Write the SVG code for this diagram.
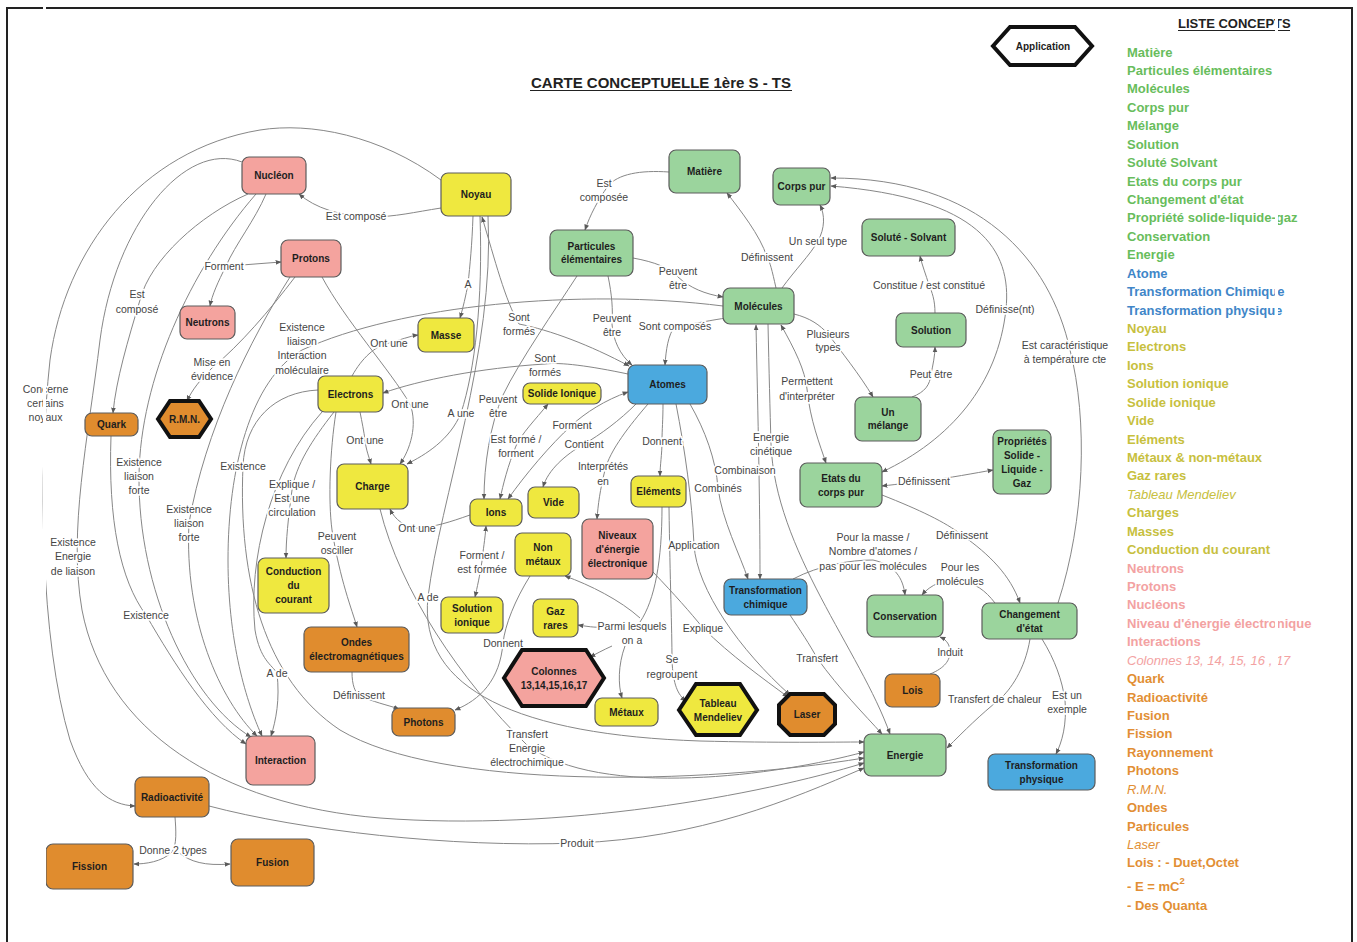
<svg xmlns="http://www.w3.org/2000/svg" width="1357" height="942" viewBox="0 0 1357 942">
<defs>
<style>
.nt{font-family:"Liberation Sans",Arial,sans-serif;font-size:10px;font-weight:bold;fill:#1e1e1e;text-anchor:middle}
.bx{stroke:#5c5c5c;stroke-width:1.2}
.hx{stroke:#111;stroke-width:4;stroke-linejoin:miter}
.pk{fill:#f4a39e}.ye{fill:#efe83f}.gr{fill:#9bd49d}.bl{fill:#4ba9de}.or{fill:#e08c2e}.wh{fill:#fff}
#connectors path{fill:none;stroke:#878787;stroke-width:1}
#connectors path.e{marker-end:url(#ah)}
#connectors path.b{marker-start:url(#ah);marker-end:url(#ah)}
.lb{font-family:"Liberation Sans",Arial,sans-serif;font-size:10.5px;fill:#454545;text-anchor:middle;paint-order:stroke;stroke:#fff;stroke-width:3.5px;stroke-linejoin:round}
.lb.st{text-anchor:start}
.li{font-family:"Liberation Sans",Arial,sans-serif;font-size:13px;font-weight:bold}
.cg{fill:#68bd5c}.cb{fill:#3f86c8}.co{fill:#c7c03e}.cp{fill:#f3a2a2}.cr{fill:#e28f35}
.it{font-style:italic;font-weight:normal}
.hd{font-family:"Liberation Sans",Arial,sans-serif;font-weight:bold;fill:#222}
</style>
<marker id="ah" viewBox="0 0 10 10" refX="9" refY="5" markerWidth="6" markerHeight="6" markerUnits="userSpaceOnUse" orient="auto-start-reverse"><path d="M0,1L10,5L0,9z" fill="#5a5a5a"/></marker>
</defs>
<rect x="0" y="0" width="1357" height="942" fill="#fff"/>
<path d="M7,942 L7,8 L1352,8 L1352,942" fill="none" stroke="#222" stroke-width="2"/>

<g id="title">
<text class="hd" x="661" y="88" font-size="15" text-anchor="middle">CARTE CONCEPTUELLE 1ère S - TS</text>
<line x1="530" y1="90.5" x2="792" y2="90.5" stroke="#222" stroke-width="1.2"/>
</g>

<g id="connectors">
<path class="e" d="M441,208 C415,212 395,217 370,217 C340,216 315,208 299,194"/>
<path class="e" d="M669,172 C640,170 618,174 608,186 C598,200 590,215 585,230"/>
<path class="e" d="M266,194 C255,220 235,245 226,266 C218,282 212,295 210,306"/>
<path class="e" d="M242,265 L281,262"/>
<path class="e" d="M248,194 C200,215 150,260 140,300 C128,340 116,380 113,413"/>
<path class="e" d="M473,216 C472,245 470,265 468,284 C466,295 463,308 460,318"/>
<path class="b" d="M629,366 C590,345 550,330 519,324 C505,300 495,260 482,217"/>
<path class="e" d="M608,276 C612,295 613,310 612,324 C613,340 620,355 632,365"/>
<path class="e" d="M633,258 C655,262 670,268 678,277 C690,288 705,294 723,297"/>
<path class="e" d="M726,318 C700,322 690,325 675,326 C668,335 666,350 665,365"/>
<path class="e" d="M776,288 C772,270 770,262 767,257 C760,235 740,210 727,193"/>
<path class="e" d="M782,288 C795,270 810,255 818,241 C825,228 825,215 820,205"/>
<path class="e" d="M935,313 C935,300 932,292 929,285 C926,275 922,265 920,256"/>
<path class="b" d="M882,472 C950,440 998,385 1006,309 C1012,250 980,198 831,186"/>
<path class="e" d="M1058,603 C1085,520 1088,420 1070,350 C1050,260 980,178 831,178"/>
<path class="e" d="M794,314 C810,318 820,325 828,334 C840,350 860,375 873,397"/>
<path class="e" d="M912,397 C925,392 930,385 931,374 C933,365 935,355 935,347"/>
<path class="b" d="M781,325 C795,350 805,370 807,389 C810,420 820,445 826,463"/>
<path class="e" d="M768,324 C769,370 770,410 771,444 C775,550 860,650 890,734"/>
<path class="b" d="M756,325 C758,420 760,500 760,579"/>
<path class="e" d="M690,404 C705,430 716,460 718,488 C722,520 740,555 748,579"/>
<path class="e" d="M676,404 C685,450 692,500 694,545 C697,590 740,650 790,695"/>
<path class="e" d="M653,572 C675,595 690,612 703,628 C730,655 765,680 788,697"/>
<path class="e" d="M663,404 C663,420 662,430 662,441 C662,455 660,465 660,476"/>
<path class="e" d="M648,404 C630,425 610,450 605,470 C600,490 598,505 597,519"/>
<path class="e" d="M636,404 C620,420 600,435 584,444 C565,455 548,470 543,487"/>
<path class="b" d="M628,392 C605,400 585,413 572,425 C550,445 525,475 508,499"/>
<path class="b" d="M548,404 C535,420 522,433 516,446 C508,465 503,485 500,499"/>
<path class="e" d="M577,276 C555,310 520,360 503,395 C490,425 484,465 484,499"/>
<path class="e" d="M480,216 C483,300 475,370 461,413 C450,440 425,455 407,464"/>
<path class="e" d="M628,374 C590,366 560,362 545,364 C480,368 420,380 383,393"/>
<path class="e" d="M352,376 C362,358 375,346 389,343 C400,340 410,336 418,335"/>
<path class="e" d="M322,277 C345,320 390,370 410,404 C418,425 410,450 400,464"/>
<path class="e" d="M360,412 C362,422 364,432 365,440 C366,450 369,457 371,464"/>
<path class="e" d="M723,306 C580,288 400,305 302,350 C250,380 228,470 228,560 C228,650 250,710 262,736"/>
<path class="e" d="M295,277 C270,310 240,345 212,368 C200,380 192,390 187,401"/>
<path class="e" d="M290,277 C250,340 205,430 189,523 C184,620 220,700 257,736"/>
<path class="e" d="M256,194 C190,270 140,380 139,476 C138,590 190,700 251,737"/>
<path class="e" d="M111,436 C108,520 120,580 146,615 C175,665 210,720 246,744"/>
<path class="e" d="M318,390 C275,392 245,420 243,466 C238,580 265,680 340,730 C440,790 700,785 864,758"/>
<path class="e" d="M322,412 C270,470 248,560 255,630 C260,660 272,665 277,673 C280,700 276,720 271,736"/>
<path class="e" d="M334,412 C312,440 296,465 292,490 C288,520 286,540 286,558"/>
<path class="e" d="M336,412 C330,450 328,500 332,530 C340,580 352,610 357,627"/>
<path class="e" d="M470,515 C450,522 435,527 417,528 C405,527 395,520 390,509"/>
<path class="b" d="M486,526 C485,540 483,550 482,561 C480,575 477,588 475,597"/>
<path class="e" d="M488,216 C495,350 440,500 428,597 C418,690 520,735 700,741 C780,743 830,742 864,742"/>
<path class="e" d="M380,509 C400,590 460,680 527,745 C600,800 780,775 864,752"/>
<path class="e" d="M242,162 C185,140 115,225 100,340 C88,440 68,530 82,610 C105,730 220,805 380,818 C560,832 760,795 864,763"/>
<path class="e" d="M441,180 C380,135 310,122 260,130 C140,150 65,250 50,360 C38,470 40,640 70,740 C88,790 110,805 135,806"/>
<path class="e" d="M209,806 C300,830 450,848 577,843 C700,838 790,800 864,768"/>
<path class="e" d="M175,817 C176,830 177,845 172,852 C162,862 145,864 134,864"/>
<path class="e" d="M178,852 C190,862 205,866 230,864"/>
<path class="e" d="M352,672 C352,685 355,692 359,695 C372,702 388,705 399,709"/>
<path class="e" d="M530,576 C515,600 505,625 503,643 C500,680 480,700 455,710"/>
<path d="M662,507 C662,560 655,600 640,622"/>
<path class="e" d="M605,627 C595,628 585,626 578,625"/>
<path class="e" d="M640,618 C620,600 590,585 565,576"/>
<path class="e" d="M612,646 C603,650 596,654 590,657"/>
<path class="e" d="M625,646 C618,665 618,685 622,698"/>
<path class="e" d="M669,507 C670,580 672,630 672,660 C673,685 678,695 686,701"/>
<path class="e" d="M790,615 C800,630 810,645 817,658 C840,690 865,715 882,734"/>
<path class="e" d="M793,579 C820,565 850,560 873,560 C895,565 903,578 905,595"/>
<path class="e" d="M995,603 C985,590 975,583 960,581 C945,578 930,585 922,595"/>
<path class="e" d="M882,495 C920,510 945,522 962,535 C990,555 1010,575 1020,603"/>
<path class="b" d="M882,486 C900,484 915,482 924,481 C950,478 975,473 993,470"/>
<path class="e" d="M930,674 C945,668 950,660 950,652 C950,645 947,640 940,637"/>
<path class="e" d="M1030,639 C1025,670 1010,690 1000,699 C980,715 965,730 947,748"/>
<path class="e" d="M1042,639 C1055,660 1062,680 1065,700 C1067,725 1062,742 1056,754"/>

<text class="lb" x="356" y="220">Est composé</text>
<text class="lb" x="604" y="187">Est<tspan x="604" dy="14">composée</tspan></text>
<text class="lb" x="224" y="270">Forment</text>
<text class="lb" x="137" y="298">Est<tspan x="137" dy="15">composé</tspan></text>
<text class="lb" x="468" y="288">A</text>
<text class="lb" x="519" y="321">Sont<tspan x="519" dy="14">formés</tspan></text>
<text class="lb" x="612" y="322">Peuvent<tspan x="612" dy="14">être</tspan></text>
<text class="lb" x="678" y="275">Peuvent<tspan x="678" dy="14">être</tspan></text>
<text class="lb" x="675" y="330">Sont composés</text>
<text class="lb" x="767" y="261">Définissent</text>
<text class="lb" x="818" y="245">Un seul type</text>
<text class="lb" x="929" y="289">Constitue / est constitué</text>
<text class="lb" x="1005" y="313">Définisse(nt)</text>
<text class="lb" x="1065" y="349">Est caractéristique<tspan x="1065" dy="14">à température cte</tspan></text>
<text class="lb" x="828" y="338">Plusieurs<tspan x="828" dy="13">types</tspan></text>
<text class="lb" x="931" y="378">Peut être</text>
<text class="lb" x="807" y="385">Permettent<tspan x="807" dy="15">d'interpréter</tspan></text>
<text class="lb" x="771" y="441">Energie<tspan x="771" dy="14">cinétique</tspan></text>
<text class="lb" x="745" y="474">Combinaison</text>
<text class="lb" x="718" y="492">Combinés</text>
<text class="lb" x="924" y="485">Définissent</text>
<text class="lb" x="962" y="539">Définissent</text>
<text class="lb" x="873" y="541">Pour la masse /<tspan x="873" dy="14">Nombre d'atomes /</tspan><tspan x="873" dy="15">pas pour les molécules</tspan></text>
<text class="lb" x="960" y="571">Pour les<tspan x="960" dy="14">molécules</tspan></text>
<text class="lb" x="694" y="549">Application</text>
<text class="lb" x="662" y="445">Donnent</text>
<text class="lb" x="603" y="470">Interprétés<tspan x="603" dy="15">en</tspan></text>
<text class="lb" x="572" y="429">Forment</text>
<text class="lb" x="584" y="448">Contient</text>
<text class="lb" x="516" y="443">Est formé /<tspan x="516" dy="14">forment</tspan></text>
<text class="lb" x="498" y="403">Peuvent<tspan x="498" dy="14">être</tspan></text>
<text class="lb" x="461" y="417">A une</text>
<text class="lb" x="545" y="362">Sont<tspan x="545" dy="14">formés</tspan></text>
<text class="lb" x="389" y="347">Ont une</text>
<text class="lb" x="410" y="408">Ont une</text>
<text class="lb" x="365" y="444">Ont une</text>
<text class="lb" x="302" y="331">Existence<tspan x="302" dy="14">liaison</tspan><tspan x="302" dy="14">Interaction</tspan><tspan x="302" dy="15">moléculaire</tspan></text>
<text class="lb" x="212" y="366">Mise en<tspan x="212" dy="14">évidence</tspan></text>
<text class="lb" x="45.5" y="393">Concerne<tspan x="45.5" dy="14">certains</tspan><tspan x="45.5" dy="14">noyaux</tspan></text>
<text class="lb" x="139" y="466">Existence<tspan x="139" dy="14">liaison</tspan><tspan x="139" dy="14">forte</tspan></text>
<text class="lb" x="243" y="470">Existence</text>
<text class="lb" x="292" y="488">Explique /<tspan x="292" dy="14">Est une</tspan><tspan x="292" dy="14">circulation</tspan></text>
<text class="lb" x="189" y="513">Existence<tspan x="189" dy="14">liaison</tspan><tspan x="189" dy="14">forte</tspan></text>
<text class="lb" x="337" y="540">Peuvent<tspan x="337" dy="14">osciller</tspan></text>
<text class="lb" x="417" y="532">Ont une</text>
<text class="lb" x="482" y="559">Forment /<tspan x="482" dy="14">est formée</tspan></text>
<text class="lb" x="73" y="546">Existence<tspan x="73" dy="14">Energie</tspan><tspan x="73" dy="15">de liaison</tspan></text>
<text class="lb" x="146" y="619">Existence</text>
<text class="lb" x="428" y="601">A de</text>
<text class="lb" x="277" y="677">A de</text>
<text class="lb" x="632" y="630">Parmi lesquels<tspan x="632" dy="14">on a</tspan></text>
<text class="lb" x="503" y="647">Donnent</text>
<text class="lb" x="703" y="632">Explique</text>
<text class="lb" x="672" y="663">Se<tspan x="672" dy="15">regroupent</tspan></text>
<text class="lb" x="817" y="662">Transfert</text>
<text class="lb" x="950" y="656">Induit</text>
<text class="lb st" x="948" y="703">Transfert de chaleur</text>
<text class="lb" x="1067" y="699">Est un<tspan x="1067" dy="14">exemple</tspan></text>
<text class="lb" x="359" y="699">Définissent</text>
<text class="lb" x="527" y="738">Transfert<tspan x="527" dy="14">Energie</tspan><tspan x="527" dy="14">électrochimique</tspan></text>
<text class="lb" x="577" y="847">Produit</text>
<text class="lb" x="173" y="854">Donne 2 types</text>
</g>

<g id="n-application"><polygon class="wh hx" points="993,46 1010,27 1075,27 1092,46 1075,65 1010,65"/><text class="nt" x="1043" y="49.5">Application</text></g>
<g id="n-nucleon"><rect class="pk bx" x="242" y="157" width="64" height="37" rx="7"/><text class="nt" x="274" y="179">Nucléon</text></g>
<g id="n-noyau"><rect class="ye bx" x="441" y="173" width="70" height="43" rx="7"/><text class="nt" x="476" y="198">Noyau</text></g>
<g id="n-matiere"><rect class="gr bx" x="669" y="150" width="71" height="43" rx="7"/><text class="nt" x="704.5" y="175">Matière</text></g>
<g id="n-corpspur"><rect class="gr bx" x="773" y="168" width="57" height="37" rx="7"/><text class="nt" x="801.5" y="190">Corps pur</text></g>
<g id="n-solute"><rect class="gr bx" x="862" y="219" width="93" height="37" rx="7"/><text class="nt" x="908.5" y="241">Soluté - Solvant</text></g>
<g id="n-particules"><rect class="gr bx" x="550" y="230" width="83" height="46" rx="7"/><text class="nt" x="591.5" y="250">Particules<tspan x="591.5" dy="13">élémentaires</tspan></text></g>
<g id="n-protons"><rect class="pk bx" x="281" y="240" width="60" height="37" rx="7"/><text class="nt" x="311" y="262">Protons</text></g>
<g id="n-neutrons"><rect class="pk bx" x="180" y="306" width="55" height="33" rx="7"/><text class="nt" x="207.5" y="326">Neutrons</text></g>
<g id="n-molecules"><rect class="gr bx" x="723" y="288" width="71" height="36" rx="7"/><text class="nt" x="758.5" y="310">Molécules</text></g>
<g id="n-solution"><rect class="gr bx" x="896" y="313" width="70" height="34" rx="7"/><text class="nt" x="931" y="333.5">Solution</text></g>
<g id="n-masse"><rect class="ye bx" x="418" y="318" width="56" height="34" rx="7"/><text class="nt" x="446" y="338.5">Masse</text></g>
<g id="n-electrons"><rect class="ye bx" x="318" y="376" width="65" height="36" rx="7"/><text class="nt" x="350.5" y="397.5">Electrons</text></g>
<g id="n-atomes"><rect class="bl bx" x="628" y="365" width="79" height="39" rx="7"/><text class="nt" x="667.5" y="388">Atomes</text></g>
<g id="n-solideionique"><rect class="ye bx" x="523" y="383" width="78" height="21" rx="7"/><text class="nt" x="562" y="397">Solide Ionique</text></g>
<g id="n-rmn"><polygon class="or hx" points="158,419 170,401 199,401 211,419 199,437 170,437"/><text class="nt" x="184.5" y="422.5">R.M.N.</text></g>
<g id="n-quark"><rect class="or bx" x="85" y="413" width="53" height="23" rx="7"/><text class="nt" x="111.5" y="428">Quark</text></g>
<g id="n-melange"><rect class="gr bx" x="855" y="397" width="66" height="44" rx="7"/><text class="nt" x="888" y="416">Un<tspan x="888" dy="13">mélange</tspan></text></g>
<g id="n-proprietes"><rect class="gr bx" x="993" y="430" width="58" height="64" rx="7"/><text class="nt" x="1022" y="444.5">Propriétés<tspan x="1022" dy="14">Solide -</tspan><tspan x="1022" dy="14">Liquide -</tspan><tspan x="1022" dy="14">Gaz</tspan></text></g>
<g id="n-etats"><rect class="gr bx" x="800" y="463" width="82" height="44" rx="7"/><text class="nt" x="841" y="482">Etats du<tspan x="841" dy="14">corps pur</tspan></text></g>
<g id="n-charge"><rect class="ye bx" x="337" y="464" width="71" height="45" rx="7"/><text class="nt" x="372.5" y="490">Charge</text></g>
<g id="n-vide"><rect class="ye bx" x="528" y="487" width="51" height="31" rx="7"/><text class="nt" x="553.5" y="506">Vide</text></g>
<g id="n-elements"><rect class="ye bx" x="631" y="476" width="55" height="31" rx="7"/><text class="nt" x="658.5" y="495">Eléments</text></g>
<g id="n-ions"><rect class="ye bx" x="470" y="499" width="52" height="27" rx="7"/><text class="nt" x="496" y="516">Ions</text></g>
<g id="n-niveaux"><rect class="pk bx" x="582" y="519" width="71" height="60" rx="7"/><text class="nt" x="617.5" y="538.5">Niveaux<tspan x="617.5" dy="14">d'énergie</tspan><tspan x="617.5" dy="14">électronique</tspan></text></g>
<g id="n-nonmetaux"><rect class="ye bx" x="515" y="533" width="56" height="43" rx="7"/><text class="nt" x="543" y="551">Non<tspan x="543" dy="14">métaux</tspan></text></g>
<g id="n-conduction"><rect class="ye bx" x="258" y="558" width="71" height="55" rx="7"/><text class="nt" x="293.5" y="575">Conduction<tspan x="293.5" dy="14">du</tspan><tspan x="293.5" dy="14">courant</tspan></text></g>
<g id="n-transfchim"><rect class="bl bx" x="724" y="579" width="83" height="36" rx="7"/><text class="nt" x="765.5" y="593.5">Transformation<tspan x="765.5" dy="14">chimique</tspan></text></g>
<g id="n-conservation"><rect class="gr bx" x="867" y="595" width="76" height="42" rx="7"/><text class="nt" x="905" y="619.5">Conservation</text></g>
<g id="n-changement"><rect class="gr bx" x="982" y="603" width="95" height="36" rx="7"/><text class="nt" x="1029.5" y="617.5">Changement<tspan x="1029.5" dy="14">d'état</tspan></text></g>
<g id="n-solutionionique"><rect class="ye bx" x="441" y="597" width="62" height="36" rx="7"/><text class="nt" x="472" y="611.5">Solution<tspan x="472" dy="14">ionique</tspan></text></g>
<g id="n-gazrares"><rect class="ye bx" x="533" y="599" width="45" height="38" rx="7"/><text class="nt" x="555.5" y="614.5">Gaz<tspan x="555.5" dy="14">rares</tspan></text></g>
<g id="n-ondes"><rect class="or bx" x="304" y="627" width="105" height="45" rx="7"/><text class="nt" x="356.5" y="646">Ondes<tspan x="356.5" dy="14">électromagnétiques</tspan></text></g>
<g id="n-colonnes"><polygon class="pk hx" points="504,678 522,650 586,650 604,678 586,706 522,706"/><text class="nt" x="554" y="674.5">Colonnes<tspan x="554" dy="14">13,14,15,16,17</tspan></text></g>
<g id="n-metaux"><rect class="ye bx" x="595" y="698" width="63" height="28" rx="7"/><text class="nt" x="626.5" y="715.5">Métaux</text></g>
<g id="n-photons"><rect class="or bx" x="392" y="708" width="63" height="28" rx="7"/><text class="nt" x="423.5" y="725.5">Photons</text></g>
<g id="n-tableau"><polygon class="ye hx" points="679,710 696,684 740,684 757,710 740,735 696,735"/><text class="nt" x="718" y="706.5">Tableau<tspan x="718" dy="14">Mendeliev</tspan></text></g>
<g id="n-laser"><polygon class="or hx" points="779,705 790,694 824,694 835,705 835,724 824,735 790,735 779,724"/><text class="nt" x="807" y="718">Laser</text></g>
<g id="n-lois"><rect class="or bx" x="885" y="674" width="55" height="33" rx="7"/><text class="nt" x="912.5" y="694">Lois</text></g>
<g id="n-energie"><rect class="gr bx" x="864" y="734" width="82" height="42" rx="7"/><text class="nt" x="905" y="758.5">Energie</text></g>
<g id="n-transfphys"><rect class="bl bx" x="988" y="754" width="107" height="36" rx="7"/><text class="nt" x="1041.5" y="768.5">Transformation<tspan x="1041.5" dy="14">physique</tspan></text></g>
<g id="n-interaction"><rect class="pk bx" x="246" y="736" width="69" height="49" rx="7"/><text class="nt" x="280.5" y="764">Interaction</text></g>
<g id="n-radioactivite"><rect class="or bx" x="135" y="777" width="74" height="40" rx="7"/><text class="nt" x="172" y="800.5">Radioactivité</text></g>
<g id="n-fission"><rect class="or bx" x="46" y="844" width="87" height="45" rx="7"/><text class="nt" x="89.5" y="870">Fission</text></g>
<g id="n-fusion"><rect class="or bx" x="231" y="839" width="83" height="47" rx="7"/><text class="nt" x="272.5" y="866">Fusion</text></g>

<g id="liste">
<text class="hd" x="1178" y="28" font-size="13">LISTE CONCEPTS</text>
<line x1="1178" y1="30.5" x2="1290" y2="30.5" stroke="#222" stroke-width="1.1"/>
<text class="li cg" x="1127" y="56.5">Matière</text>
<text class="li cg" x="1127" y="74.9">Particules élémentaires</text>
<text class="li cg" x="1127" y="93.4">Molécules</text>
<text class="li cg" x="1127" y="111.8">Corps pur</text>
<text class="li cg" x="1127" y="130.2">Mélange</text>
<text class="li cg" x="1127" y="148.7">Solution</text>
<text class="li cg" x="1127" y="167.1">Soluté Solvant</text>
<text class="li cg" x="1127" y="185.5">Etats du corps pur</text>
<text class="li cg" x="1127" y="203.9">Changement d'état</text>
<text class="li cg" x="1127" y="222.4">Propriété solide-liquide-gaz</text>
<text class="li cg" x="1127" y="240.8">Conservation</text>
<text class="li cg" x="1127" y="259.2">Energie</text>
<text class="li cb" x="1127" y="277.7">Atome</text>
<text class="li cb" x="1127" y="296.1">Transformation Chimique</text>
<text class="li cb" x="1127" y="314.5">Transformation physique</text>
<text class="li co" x="1127" y="333.0">Noyau</text>
<text class="li co" x="1127" y="351.4">Electrons</text>
<text class="li co" x="1127" y="369.8">Ions</text>
<text class="li co" x="1127" y="388.2">Solution ionique</text>
<text class="li co" x="1127" y="406.7">Solide ionique</text>
<text class="li co" x="1127" y="425.1">Vide</text>
<text class="li co" x="1127" y="443.5">Eléments</text>
<text class="li co" x="1127" y="462.0">Métaux &amp; non-métaux</text>
<text class="li co" x="1127" y="480.4">Gaz rares</text>
<text class="li co it" x="1127" y="498.8">Tableau Mendeliev</text>
<text class="li co" x="1127" y="517.3">Charges</text>
<text class="li co" x="1127" y="535.7">Masses</text>
<text class="li co" x="1127" y="554.1">Conduction du courant</text>
<text class="li cp" x="1127" y="572.5">Neutrons</text>
<text class="li cp" x="1127" y="591.0">Protons</text>
<text class="li cp" x="1127" y="609.4">Nucléons</text>
<text class="li cp" x="1127" y="627.8">Niveau d'énergie électronique</text>
<text class="li cp" x="1127" y="646.3">Interactions</text>
<text class="li cp it" x="1127" y="664.7">Colonnes 13, 14, 15, 16 , 17</text>
<text class="li cr" x="1127" y="683.1">Quark</text>
<text class="li cr" x="1127" y="701.6">Radioactivité</text>
<text class="li cr" x="1127" y="720.0">Fusion</text>
<text class="li cr" x="1127" y="738.4">Fission</text>
<text class="li cr" x="1127" y="756.8">Rayonnement</text>
<text class="li cr" x="1127" y="775.3">Photons</text>
<text class="li cr it" x="1127" y="793.7">R.M.N.</text>
<text class="li cr" x="1127" y="812.1">Ondes</text>
<text class="li cr" x="1127" y="830.6">Particules</text>
<text class="li cr it" x="1127" y="849.0">Laser</text>
<text class="li cr" x="1127" y="867.4">Lois : - Duet,Octet</text>
<text class="li cr" x="1127" y="891">- E = mC<tspan font-size="9.5" dy="-7">2</tspan></text>
<text class="li cr" x="1127" y="910">- Des Quanta</text>
</g>

<rect x="43" y="0" width="3" height="942" fill="#fff"/>
<rect x="1275" y="11" width="3" height="931" fill="#fff"/>
</svg>
